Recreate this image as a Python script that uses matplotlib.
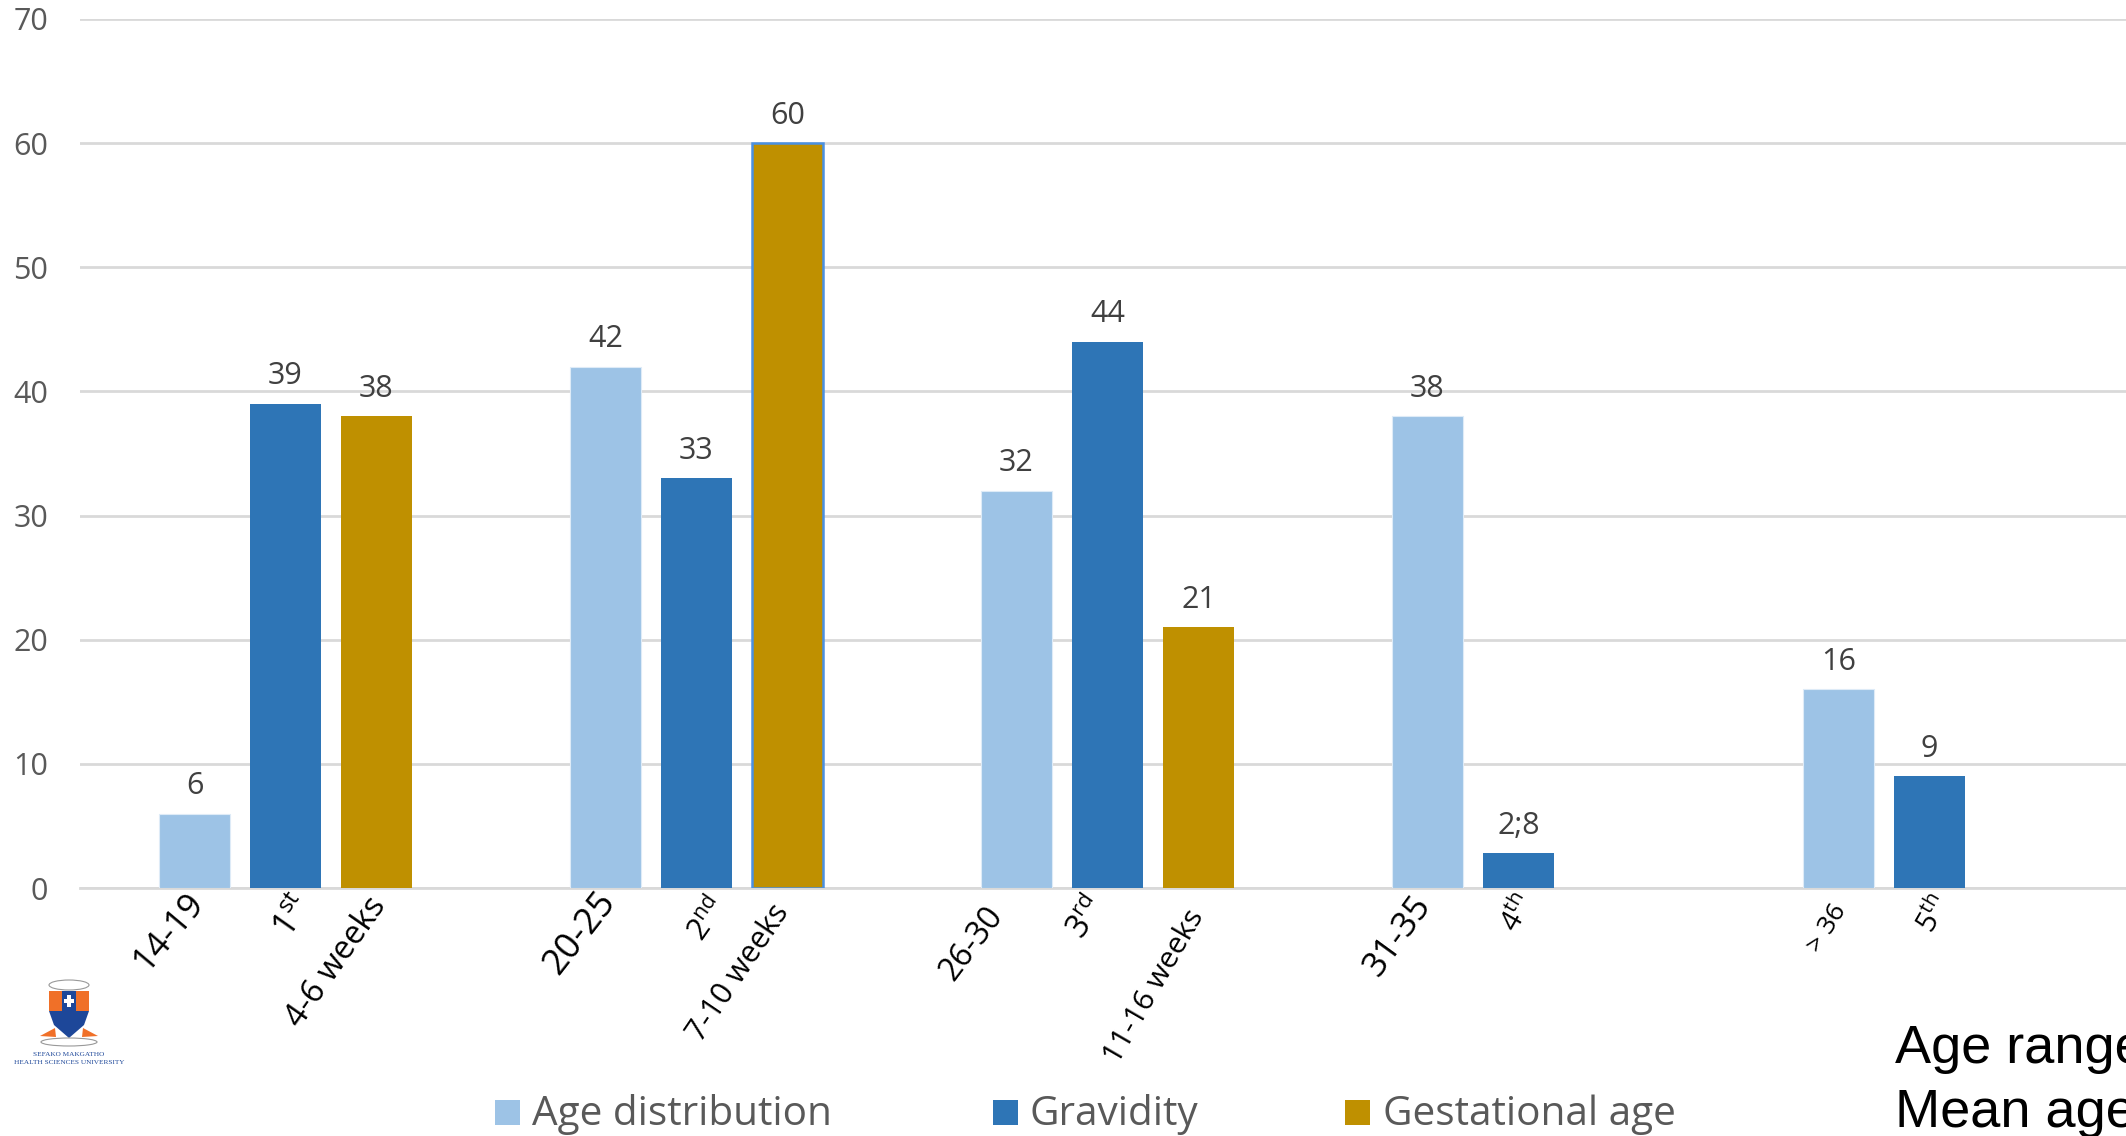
import numpy as np
import matplotlib
matplotlib.use('Agg')
import matplotlib.pyplot as plt
from matplotlib.patches import Rectangle, Polygon, Ellipse

# data
age_values = [6, 42, 32, 38, 16]
gravidity_values = [39, 33, 44, 2.8, 9]
gestational_values = [38, 60, 21]
value_labels_gravidity = ['39', '33', '44', '2;8', '9']

age_labels = ['14-19', '20-25', '26-30', '31-35', '> 36']
gravidity_labels = ['1$^{st}\\,$', '2$^{nd}\\,$', '3$^{rd}\\,$', '4$^{th}\\,$', '5$^{th}\\,$']
gestational_labels = ['4-6 weeks', '7-10 weeks', '11-16 weeks']
y_ticks = [0, 10, 20, 30, 40, 50, 60, 70]

# per-label look: font size, rotation, extra pad (pt), sideways nudge (px)
age_sizes = [25, 26, 23, 25, 19]
gravidity_sizes = [25, 22, 23, 21, 21]
gestational_sizes = [23.5, 22, 21.5]
age_rot = [50, 52, 53, 54, 58]
gravidity_rot = [55, 55, 55, 60, 60]
gestational_rot = [55, 56, 60]
age_pad = [2, 2, 12, 4, 9]
gravidity_pad = [5, 6, 6, 3, 4]
gestational_pad = [5, 10, 13]
age_nudge = [4, 4, -20, -3, 3]
gravidity_nudge = [20, 24, -9, 9, 14]
gestational_nudge = [3, -5, -1]

plt.rcParams['font.family'] = ['Open Sans', 'DejaVu Sans']
plt.rcParams['mathtext.default'] = 'regular'

W, H = 2126, 1136
fig = plt.figure(figsize=(W / 100, H / 100), dpi=100)
ax = fig.add_axes([80 / W, (H - 888) / H, (W - 80) / W, (888 - 19) / H])

step = 91 / 411
width = 71 / 411
x = np.arange(5)
x_gest = np.arange(3)

age_bars = ax.bar(x - step, age_values, width, color='#9DC3E6', edgecolor='#DEEBF7', linewidth=0.8, zorder=3)
grav_bars = ax.bar(x, gravidity_values, width, color='#2E75B6', zorder=3)
gest_bars = ax.bar(x_gest + step, gestational_values, width, color='#BF9000', zorder=3)
# second gestational bar is outlined in the original
gest_bars[1].set_edgecolor('#4A90E2')
gest_bars[1].set_linewidth(1.8)

ax.set_xlim(-0.5, (W - 80) / 411 - 0.5)
ax.set_ylim(0, 70)
ax.set_yticks(y_ticks)
ax.tick_params(axis='y', length=0, pad=23, labelsize=22, labelcolor='#595959')
ax.yaxis.grid(True, color='#D9D9D9', linewidth=2, zorder=0)
ax.set_axisbelow(True)
for s in ax.spines.values():
    s.set_visible(False)
ax.spines['bottom'].set_visible(True)
ax.spines['bottom'].set_color('#D9D9D9')
ax.spines['bottom'].set_linewidth(2)
ax.spines['bottom'].set_zorder(1)

ax.bar_label(age_bars, labels=[str(v) for v in age_values], padding=9, fontsize=22, color='#404040')
ax.bar_label(grav_bars, labels=value_labels_gravidity, padding=9, fontsize=22, color='#404040')
ax.bar_label(gest_bars, labels=[str(v) for v in gestational_values], padding=9, fontsize=22, color='#404040')

# x tick labels, one per bar
pos = np.array(list(x - step) + list(x) + list(x_gest + step))
labels = age_labels + gravidity_labels + gestational_labels
sizes = age_sizes + gravidity_sizes + gestational_sizes
rots = age_rot + gravidity_rot + gestational_rot
pads = age_pad + gravidity_pad + gestational_pad
nudges = np.array(age_nudge + gravidity_nudge + gestational_nudge) / 411
ax.set_xticks(pos + nudges, labels)
ax.tick_params(axis='x', length=0)
for tick, sz, rot, p in zip(ax.xaxis.get_major_ticks(), sizes, rots, pads):
    tick.set_pad(4 + p)
    lab = tick.label1
    lab.set_rotation(rot)
    lab.set_rotation_mode('anchor')
    lab.set_ha('right')
    lab.set_va('center')
    lab.set_fontsize(sz)
    lab.set_color('black')

# overlay in pixel coordinates for legend, notes and crest
ov = fig.add_axes([0, 0, 1, 1], zorder=5)
ov.set_xlim(0, W)
ov.set_ylim(H, 0)
ov.axis('off')

legend_items = [('Age distribution', '#9DC3E6', 495, 532),
                ('Gravidity', '#2E75B6', 993, 1030),
                ('Gestational age', '#BF9000', 1345, 1383)]
for name, col, bx, tx in legend_items:
    ov.add_patch(Rectangle((bx, 1100), 25, 25, color=col, lw=0))
    ov.text(tx, 1125, name, fontsize=29.2, color='#595959', va='baseline', ha='left')

ov.text(1895, 1063, 'Age range', fontsize=39, color='black', family='Liberation Sans', va='baseline')
ov.text(1895, 1127, 'Mean age', fontsize=39, color='black', family='Liberation Sans', va='baseline')

# university crest
ov.add_patch(Polygon([(49, 991), (89, 991), (89, 1011), (84, 1025), (69, 1038), (54, 1025), (49, 1011)],
                     closed=True, color='#1D4799', lw=0))
ov.add_patch(Rectangle((49, 991), 40, 20, color='#F07028', lw=0))
ov.add_patch(Rectangle((62, 991), 14, 20, color='#1D4799', lw=0))
ov.add_patch(Rectangle((67, 995), 4, 12, color='white', lw=0))
ov.add_patch(Rectangle((64, 999), 10, 4, color='white', lw=0))
ov.add_patch(Ellipse((69, 985), 40, 10, fc='white', ec='#999999', lw=0.8))
ov.add_patch(Polygon([(40, 1036), (55, 1028), (56, 1037)], closed=True, color='#F07028', lw=0))
ov.add_patch(Polygon([(98, 1036), (83, 1028), (82, 1037)], closed=True, color='#F07028', lw=0))
ov.add_patch(Ellipse((69, 1042), 56, 8, fc='white', ec='#999999', lw=0.8))
ov.text(69, 1054, 'SEFAKO MAKGATHO', fontsize=5.2, color='#1D4799', family='Liberation Serif', ha='center', va='center')
ov.text(69, 1062, 'HEALTH SCIENCES UNIVERSITY', fontsize=5.2, color='#1D4799', family='Liberation Serif', ha='center', va='center')

fig.savefig('out.png', dpi=100)
